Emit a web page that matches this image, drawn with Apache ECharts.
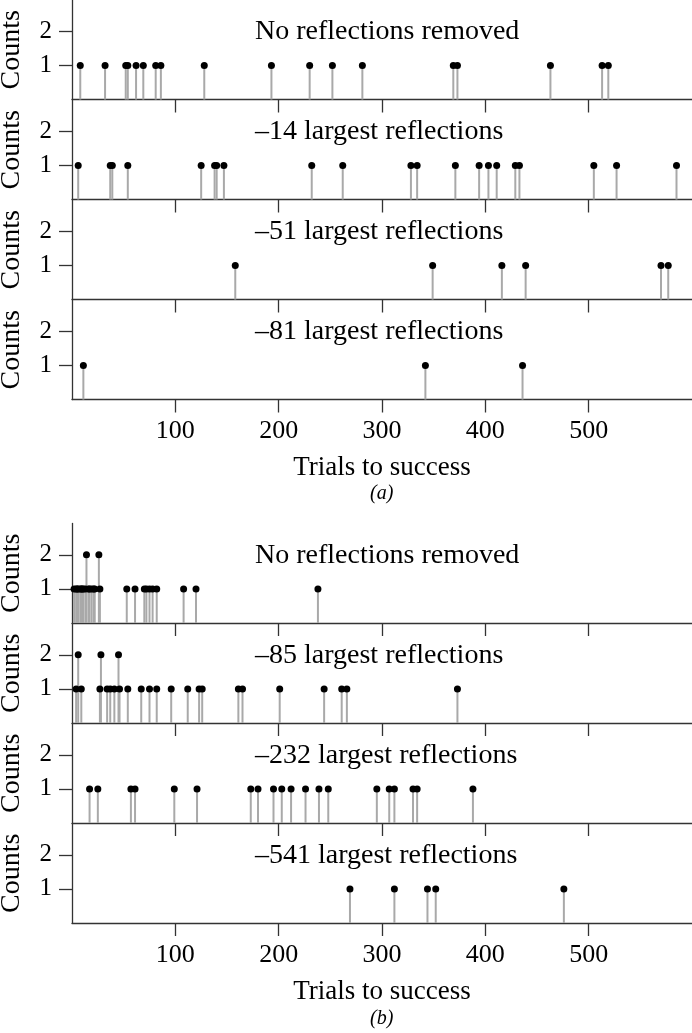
<!DOCTYPE html>
<html>
<head>
<meta charset="utf-8">
<script src="https://cdn.jsdelivr.net/npm/echarts@6/dist/echarts.min.js"></script>
<style>
  html, body { margin: 0; padding: 0; background: #fff; }
  #chart { width: 692px; height: 1033px; }
</style>
</head>
<body>
<div id="chart"></div>
<script>
// [trials to success, counts]
const a1 = [[8,1],[32,1],[52,1],[54,1],[62,1],[69,1],[81,1],[86,1],[128,1],[193,1],[230,1],[252,1],[281,1],[369,1],[373,1],[463,1],[513,1],[519,1]];
const a2 = [[6,1],[37,1],[39,1],[54,1],[125,1],[138,1],[140,1],[147,1],[232,1],[262,1],[328,1],[334,1],[371,1],[394,1],[403,1],[411,1],[429,1],[433,1],[505,1],[527,1],[585,1]];
const a3 = [[158,1],[349,1],[416,1],[439,1],[570,1],[577,1]];
const a4 = [[11,1],[342,1],[436,1]];
const b1 = [[2,1],[4,1],[5,1],[6,1],[8,1],[9,1],[10,1],[11,1],[13,1],[14,2],[16,1],[17,1],[19,1],[21,1],[22,1],[26,2],[27,1],
            [53,1],[61,1],[70,1],[72,1],[75,1],[78,1],[82,1],[108,1],[120,1],[238,1]];
const b2 = [[4,1],[6,2],[9,1],[27,1],[28,2],[34,1],[37,1],[41,1],[45,2],[46,1],[54,1],[67,1],[75,1],[82,1],[96,1],[112,1],[123,1],[126,1],[161,1],[165,1],[201,1],[244,1],[261,1],[266,1],[373,1]];
const b3 = [[17,1],[25,1],[57,1],[61,1],[99,1],[121,1],[173,1],[180,1],[195,1],[203,1],[212,1],[226,1],[239,1],[248,1],[295,1],[307,1],[312,1],[330,1],[334,1],[388,1]];
const b4 = [[269,1],[312,1],[344,1],[352,1],[476,1]];

const panelData = [a1, a2, a3, a4, b1, b2, b3, b4];
const panelNames = [
  "No reflections removed", "\u201314 largest reflections", "\u201351 largest reflections", "\u201381 largest reflections",
  "No reflections removed", "\u201385 largest reflections", "\u2013232 largest reflections", "\u2013541 largest reflections"
];
const xTicks = [100, 200, 300, 400, 500];
const yTicks = [1, 2];

const panelTops = [0, 100, 200, 300, 523.5, 623.5, 723.5, 823.5];
const font = '"Liberation Serif", "Times New Roman", serif';
const axisColor = "#333";

const myChart = echarts.init(document.getElementById("chart"), null, { renderer: "canvas" });

const grids = [], xAxes = [], yAxes = [], series = [], texts = [];

panelData.forEach((pts, i) => {
  const bottom = i === 3 || i === 7;
  grids.push({ left: 72, right: 0, top: panelTops[i], height: 99.5, containLabel: false, outerBoundsMode: "none" });

  xAxes.push({
    gridIndex: i,
    type: "value",
    min: 0,
    max: 600,
    interval: 100,
    axisLine: { show: true, onZero: false, lineStyle: { color: axisColor, width: 1.3 } },
    axisTick: { show: true, length: 13, customValues: xTicks, lineStyle: { color: axisColor, width: 1.3 } },
    axisLabel: { show: bottom, customValues: xTicks, fontFamily: font, fontSize: 26, color: "#000", margin: 19 },
    splitLine: { show: false },
    name: bottom ? "Trials to success" : "",
    nameLocation: "middle",
    nameGap: 55,
    nameTextStyle: { fontFamily: font, fontSize: 27, color: "#000" }
  });

  yAxes.push({
    gridIndex: i,
    type: "value",
    min: 0,
    max: 2.92,
    interval: 1,
    axisLine: { show: true, lineStyle: { color: axisColor, width: 1.3 } },
    axisTick: { show: true, length: 13, customValues: yTicks, lineStyle: { color: axisColor, width: 1.3 } },
    axisLabel: { customValues: yTicks, fontFamily: font, fontSize: 25, color: "#000", margin: 20 },
    splitLine: { show: false },
    name: "Counts",
    nameLocation: "middle",
    nameGap: 46,
    nameTextStyle: { fontFamily: font, fontSize: 28, color: "#000" }
  });

  // stems
  series.push({
    type: "bar",
    xAxisIndex: i,
    yAxisIndex: i,
    data: pts,
    barWidth: 2,
    itemStyle: { color: "#a9a9a9" },
    silent: true
  });
  // heads
  series.push({
    type: "scatter",
    xAxisIndex: i,
    yAxisIndex: i,
    data: pts,
    symbol: "circle",
    symbolSize: 7,
    itemStyle: { color: "#000", opacity: 1 },
    z: 5
  });

  texts.push({
    type: "text",
    left: 255,
    top: panelTops[i] + 18,
    style: { text: panelNames[i], font: "28px " + font, fill: "#000" }
  });
});

texts.push({ type: "text", left: 370, top: 484, style: { text: "(a)", font: "italic 20px " + font, fill: "#000" } });
texts.push({ type: "text", left: 370, top: 1009, style: { text: "(b)", font: "italic 20px " + font, fill: "#000" } });

myChart.setOption({
  animation: false,
  backgroundColor: "#fff",
  grid: grids,
  xAxis: xAxes,
  yAxis: yAxes,
  series: series,
  graphic: texts
});
</script>
</body>
</html>
